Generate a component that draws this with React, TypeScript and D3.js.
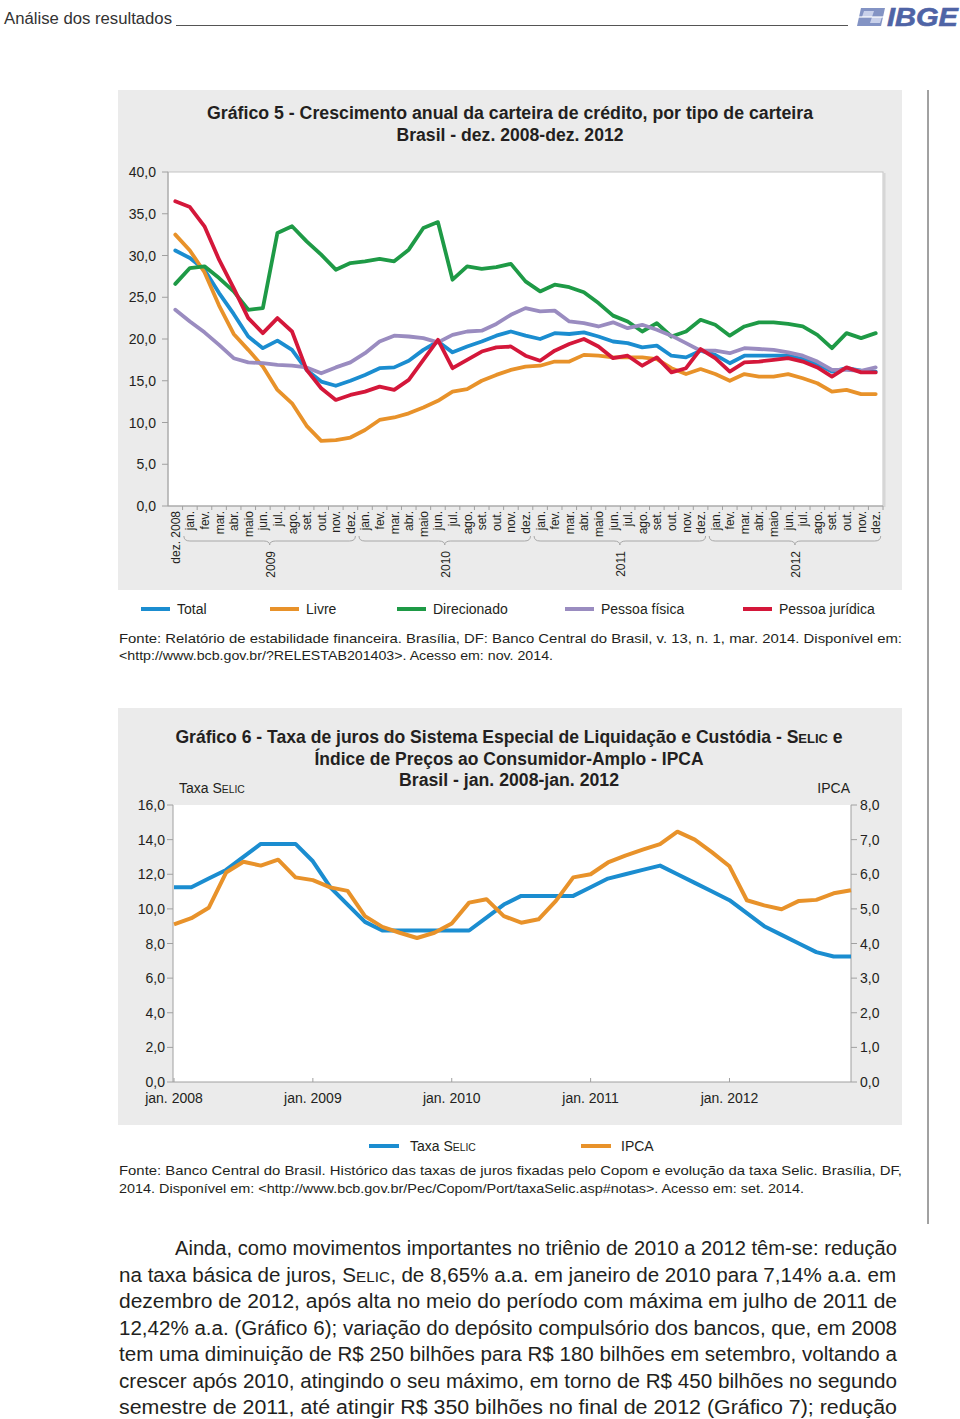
import React, { useLayoutEffect, useRef, useState } from "react";
import * as d3 from "d3";

// ---------- Gráfico 5 data ----------
const monthsShort = ["jan.", "fev.", "mar.", "abr.", "maio", "jun.", "jul.", "ago.", "set.", "out.", "nov.", "dez."];
const categories5 = ["dez. 2008", ...monthsShort, ...monthsShort, ...monthsShort, ...monthsShort];
const years5 = ["2009", "2010", "2011", "2012"];
const yTicks5 = [0, 5, 10, 15, 20, 25, 30, 35, 40];

const total5 = [30.6, 29.7, 28.3, 25.5, 23.0, 20.3, 18.9, 19.8, 18.7, 16.3, 14.9, 14.4, 15.0, 15.7, 16.5, 16.6, 17.4, 18.7, 19.7, 18.4, 19.1, 19.7, 20.4, 20.9, 20.4, 20.0, 20.7, 20.6, 20.8, 20.3, 19.7, 19.5, 19.0, 19.2, 18.0, 17.8, 18.6, 18.1, 17.1, 18.0, 18.0, 18.0, 18.0, 17.6, 17.0, 16.1, 16.5, 16.2, 16.1];
const livre5 = [32.5, 30.6, 28.0, 24.0, 20.6, 18.7, 16.7, 13.9, 12.3, 9.6, 7.8, 7.9, 8.2, 9.1, 10.3, 10.6, 11.1, 11.8, 12.6, 13.7, 14.0, 15.0, 15.7, 16.3, 16.7, 16.8, 17.3, 17.3, 18.1, 18.0, 17.8, 17.8, 17.8, 17.6, 16.5, 15.8, 16.4, 15.8, 15.0, 15.8, 15.5, 15.5, 15.8, 15.3, 14.7, 13.7, 13.9, 13.4, 13.4];
const direcionado5 = [26.6, 28.5, 28.7, 27.3, 25.7, 23.5, 23.7, 32.7, 33.5, 31.7, 30.1, 28.3, 29.1, 29.3, 29.6, 29.3, 30.7, 33.3, 34.0, 27.1, 28.7, 28.4, 28.6, 29.0, 26.9, 25.7, 26.5, 26.2, 25.6, 24.3, 22.8, 22.1, 20.9, 21.9, 20.3, 20.9, 22.3, 21.7, 20.4, 21.5, 22.0, 22.0, 21.8, 21.5, 20.5, 18.9, 20.7, 20.1, 20.7];
const pessoaFisica5 = [23.5, 22.1, 20.8, 19.3, 17.7, 17.2, 17.1, 16.9, 16.8, 16.6, 15.9, 16.6, 17.2, 18.3, 19.7, 20.4, 20.3, 20.1, 19.6, 20.5, 20.9, 21.0, 21.8, 22.9, 23.7, 23.3, 23.4, 22.1, 21.9, 21.5, 22.0, 21.3, 21.7, 21.1, 20.4, 19.5, 18.6, 18.6, 18.3, 18.9, 18.8, 18.7, 18.4, 18.0, 17.3, 16.3, 16.3, 16.2, 16.6];
const pessoaJuridica5 = [36.5, 35.8, 33.5, 29.5, 26.1, 22.5, 20.7, 22.5, 20.9, 16.3, 14.1, 12.7, 13.3, 13.7, 14.3, 13.9, 15.1, 17.5, 19.9, 16.5, 17.5, 18.5, 19.0, 19.1, 18.0, 17.4, 18.6, 19.4, 20.0, 19.1, 17.7, 18.0, 16.8, 17.8, 16.0, 16.5, 18.8, 17.7, 16.1, 17.2, 17.3, 17.5, 17.7, 17.3, 16.6, 15.5, 16.6, 16.0, 16.0];

const seriesNames5 = ["Total", "Livre", "Direcionado", "Pessoa física", "Pessoa jurídica"];
const seriesColors5 = ["#1b8dd0", "#e8922a", "#1e9a46", "#9a8cc0", "#d4173a"];
const seriesValues5 = [total5, livre5, direcionado5, pessoaFisica5, pessoaJuridica5];

// ---------- Gráfico 6 data ----------
const meetings6 = [
  "jan. 2008", "mar. 2008", "abr. 2008", "jun. 2008", "jul. 2008", "set. 2008", "out. 2008", "dez. 2008",
  "jan. 2009", "mar. 2009", "abr. 2009", "jun. 2009", "jul. 2009", "set. 2009", "out. 2009", "dez. 2009",
  "jan. 2010", "mar. 2010", "abr. 2010", "jun. 2010", "jul. 2010", "set. 2010", "out. 2010", "dez. 2010",
  "jan. 2011", "mar. 2011", "abr. 2011", "jun. 2011", "jul. 2011", "ago. 2011", "out. 2011", "nov. 2011",
  "jan. 2012", "mar. 2012", "abr. 2012", "maio 2012", "jul. 2012", "ago. 2012", "out. 2012", "nov. 2012",
];
const selic6 = [11.25, 11.25, 11.75, 12.25, 13.0, 13.75, 13.75, 13.75, 12.75, 11.25, 10.25, 9.25, 8.75, 8.75, 8.75, 8.75, 8.75, 8.75, 9.5, 10.25, 10.75, 10.75, 10.75, 10.75, 11.25, 11.75, 12.0, 12.25, 12.5, 12.0, 11.5, 11.0, 10.5, 9.75, 9.0, 8.5, 8.0, 7.5, 7.25, 7.25];
const ipca6 = [4.55, 4.73, 5.03, 6.05, 6.36, 6.25, 6.42, 5.91, 5.83, 5.62, 5.52, 4.79, 4.48, 4.31, 4.16, 4.31, 4.58, 5.18, 5.28, 4.79, 4.6, 4.7, 5.23, 5.91, 6.0, 6.34, 6.54, 6.71, 6.87, 7.23, 7.0, 6.63, 6.23, 5.25, 5.1, 4.99, 5.23, 5.26, 5.45, 5.54];
const yTicksLeft6 = [0, 2, 4, 6, 8, 10, 12, 14, 16];
const yTicksRight6 = [0, 1, 2, 3, 4, 5, 6, 7, 8];
const seriesColors6 = ["#1b8dd0", "#e8922a"];

// ---------- Texts ----------
const paragraphLines = [
  "Ainda, como movimentos importantes no triênio de 2010 a 2012 têm-se: redução",
  "na taxa básica de juros, |S|, de 8,65% a.a. em janeiro de 2010 para 7,14% a.a. em",
  "dezembro de 2012, após alta no meio do período com máxima em julho de 2011 de",
  "12,42% a.a. (Gráfico 6);  variação do depósito compulsório dos bancos, que, em 2008",
  "tem uma diminuição de R$ 250 bilhões para R$ 180 bilhões em setembro, voltando a",
  "crescer após 2010, atingindo o seu máximo, em torno de R$ 450 bilhões no segundo",
  "semestre de 2011, até atingir R$ 350 bilhões no final de 2012 (Gráfico 7); redução",
];

const SANS = "'Liberation Sans', Arial, Helvetica, sans-serif";
const TXT = "#231f20";
const fmt = d3.formatLocale({ decimal: ",", thousands: ".", grouping: [3], currency: ["R$", ""] }).format(".1f");

function SmallCapsSelic({ size }: { size: number }) {
  return (
    <>
      <tspan>S</tspan>
      <tspan fontSize={size * 0.74}>ELIC</tspan>
    </>
  );
}

// Text that is horizontally scaled to a target width (keeps tspans un-squeezed individually)
function FitText({ x, y, width, anchor, fontSize, fontWeight, children }: any) {
  const ref = useRef<SVGTextElement>(null);
  const [s, setS] = useState(1);
  useLayoutEffect(() => {
    if (ref.current) {
      const len = ref.current.getComputedTextLength();
      if (len > 0) setS(width / len);
    }
  }, [width]);
  return (
    <text
      ref={ref}
      transform={`translate(${x},${y}) scale(${s},1)`}
      textAnchor={anchor}
      fontSize={fontSize}
      fontWeight={fontWeight}
      fill={TXT}
    >
      {children}
    </text>
  );
}

function Brace({ x1, x2, y }: { x1: number; x2: number; y: number }) {
  const m = (x1 + x2) / 2;
  const d = `M${x1},${y - 5} Q${x1},${y} ${x1 + 6},${y} L${m - 6},${y} Q${m},${y} ${m},${y + 4} Q${m},${y} ${m + 6},${y} L${x2 - 6},${y} Q${x2},${y} ${x2},${y - 5}`;
  return <path d={d} fill="none" stroke="#a8a8a8" strokeWidth={1} />;
}

export default function App() {
  // Chart 5 scales
  const x5 = d3.scalePoint<number>().domain(d3.range(categories5.length)).range([168, 883]).padding(0.5);
  const y5 = d3.scaleLinear().domain([0, 40]).range([506, 172]);
  const line5 = (vals: number[]) =>
    d3.line<number>().x((_, i) => x5(i) as number).y((v) => y5(v))(vals) || "";
  const step5 = x5.step();

  // Chart 6 scales
  const x6 = d3.scalePoint<number>().domain(d3.range(meetings6.length)).range([174, 851]);
  const yL6 = d3.scaleLinear().domain([0, 16]).range([1082, 805]);
  const yR6 = d3.scaleLinear().domain([0, 8]).range([1082, 805]);
  const selicLine = d3.line<number>().x((_, i) => x6(i) as number).y((v) => yL6(v))(selic6) || "";
  const ipcaLine = d3.line<number>().x((_, i) => x6(i) as number).y((v) => yR6(v))(ipca6) || "";

  const legend5X = [141, 270, 397, 565, 743];

  return (
    <svg
      width={960}
      height={1419}
      viewBox="0 0 960 1419"
      style={{ position: "absolute", left: 0, top: 0, display: "block", background: "#fff" }}
      fontFamily={SANS}
    >
      <rect x={0} y={0} width={960} height={1419} fill="#fff" />
      {/* Header */}
      <text x={4} y={24} fontSize={16} fill="#333" textLength={168} lengthAdjust="spacingAndGlyphs">
        Análise dos resultados
      </text>
      <line x1={176} x2={848} y1={25.5} y2={25.5} stroke="#555" strokeWidth={1} />
      <g>
        <polygon points="861,8 885,8 881,26 857,26" fill="#8393c4" />
        <polygon points="864,11 874,11 872,17 862,17" fill="#c8d0ea" />
        <polygon points="872,17 882,17 880,23 870,23" fill="#c8d0ea" />
        <line x1={858} y1={17} x2={884} y2={17} stroke="#fff" strokeWidth={1.2} />
        <text x={887} y={26} fontSize={26} fontWeight="bold" fontStyle="italic" fill="#4f64a6" stroke="#4f64a6" strokeWidth={0.6} textLength={71} lengthAdjust="spacingAndGlyphs">
          IBGE
        </text>
      </g>
      {/* right margin rule */}
      <line x1={928} x2={928} y1={90} y2={1224} stroke="#444" strokeWidth={1} />

      {/* ================= Gráfico 5 ================= */}
      <rect x={118} y={90} width={784} height={500} fill="#ebebeb" />
      <text x={510} y={119} fontSize={18} fontWeight="bold" fill={TXT} textAnchor="middle" textLength={606} lengthAdjust="spacingAndGlyphs">
        Gráfico 5 - Crescimento anual da carteira de crédito, por tipo de carteira
      </text>
      <text x={510} y={141} fontSize={18} fontWeight="bold" fill={TXT} textAnchor="middle" textLength={227} lengthAdjust="spacingAndGlyphs">
        Brasil - dez. 2008-dez. 2012
      </text>
      <rect x={168} y={172} width={715} height={334} fill="#fff" stroke="#c4c4c4" strokeWidth={1} />
      <line x1={884.5} x2={884.5} y1={173} y2={507} stroke="#d6d6d6" strokeWidth={2} />
      <line x1={168} x2={168} y1={172} y2={506} stroke="#a0a0a0" strokeWidth={1} />
      <line x1={168} x2={883} y1={506} y2={506} stroke="#a0a0a0" strokeWidth={1} />
      {yTicks5.map((t) => (
        <g key={"y5" + t}>
          <line x1={162} x2={168} y1={y5(t)} y2={y5(t)} stroke="#a0a0a0" />
          <text x={156} y={y5(t) + 5} fontSize={14} fill={TXT} textAnchor="end">
            {fmt(t)}
          </text>
        </g>
      ))}
      {categories5.map((c, i) => (
        <g key={"x5" + i}>
          <line x1={(x5(i) as number) + step5 / 2} x2={(x5(i) as number) + step5 / 2} y1={506} y2={510} stroke="#a0a0a0" />
          <text
            transform={`translate(${(x5(i) as number) + 4.5},${511}) rotate(-90)`}
            fontSize={12}
            fill={TXT}
            textAnchor="end"
          >
            {c}
          </text>
        </g>
      ))}
      {years5.map((yr, k) => {
        const a = x5(1 + 12 * k) as number;
        const b = x5(12 + 12 * k) as number;
        const m = (a + b) / 2;
        return (
          <g key={yr}>
            <Brace x1={a - 6} x2={b + 5} y={541} />
            <text transform={`translate(${m + 4.5},${551}) rotate(-90)`} fontSize={12} fill={TXT} textAnchor="end">
              {yr}
            </text>
          </g>
        );
      })}
      {seriesValues5.map((vals, s) => (
        <path key={"s5" + s} d={line5(vals)} fill="none" stroke={seriesColors5[s]} strokeWidth={3.8} strokeLinejoin="round" strokeLinecap="round" />
      ))}
      {/* Legend 5 */}
      {seriesNames5.map((n, s) => (
        <g key={"l5" + s}>
          <line x1={legend5X[s]} x2={legend5X[s] + 29} y1={609} y2={609} stroke={seriesColors5[s]} strokeWidth={4} />
          <text x={legend5X[s] + 36} y={614} fontSize={14} fill={TXT}>
            {n}
          </text>
        </g>
      ))}
      <text x={119} y={643} fontSize={13.5} fill={TXT} textLength={783} lengthAdjust="spacingAndGlyphs">
        Fonte: Relatório de estabilidade financeira. Brasília, DF: Banco Central do Brasil, v. 13, n. 1, mar. 2014. Disponível em:
      </text>
      <text x={119} y={660} fontSize={13.5} fill={TXT} textLength={434} lengthAdjust="spacingAndGlyphs">
        {"<http://www.bcb.gov.br/?RELESTAB201403>. Acesso em: nov. 2014."}
      </text>

      {/* ================= Gráfico 6 ================= */}
      <rect x={118} y={708} width={784} height={417} fill="#ebebeb" />
      <FitText x={509} y={743} width={668} anchor="middle" fontSize={18} fontWeight="bold">
        Gráfico 6 - Taxa de juros do Sistema Especial de Liquidação e Custódia - <SmallCapsSelic size={18} /> e
      </FitText>
      <text x={509} y={765} fontSize={18} fontWeight="bold" fill={TXT} textAnchor="middle" textLength={389} lengthAdjust="spacingAndGlyphs">
        Índice de Preços ao Consumidor-Amplo - IPCA
      </text>
      <text x={509} y={786} fontSize={18} fontWeight="bold" fill={TXT} textAnchor="middle" textLength={220} lengthAdjust="spacingAndGlyphs">
        Brasil - jan. 2008-jan. 2012
      </text>
      <text x={179} y={793} fontSize={14} fill={TXT}>
        Taxa <SmallCapsSelic size={14} />
      </text>
      <text x={850} y={793} fontSize={14} fill={TXT} textAnchor="end">
        IPCA
      </text>
      <rect x={173} y={805} width={678} height={277} fill="#fff" />
      <line x1={173} x2={173} y1={805} y2={1082} stroke="#a0a0a0" />
      <line x1={851} x2={851} y1={805} y2={1082} stroke="#a0a0a0" />
      <line x1={173} x2={851} y1={1082} y2={1082} stroke="#a0a0a0" />
      {yTicksLeft6.map((t) => (
        <g key={"yl6" + t}>
          <line x1={167} x2={173} y1={yL6(t)} y2={yL6(t)} stroke="#a0a0a0" />
          <text x={165} y={yL6(t) + 5} fontSize={14} fill={TXT} textAnchor="end">
            {fmt(t)}
          </text>
        </g>
      ))}
      {yTicksRight6.map((t) => (
        <g key={"yr6" + t}>
          <line x1={851} x2={857} y1={yR6(t)} y2={yR6(t)} stroke="#a0a0a0" />
          <text x={860} y={yR6(t) + 5} fontSize={14} fill={TXT}>
            {fmt(t)}
          </text>
        </g>
      ))}
      {meetings6.map((m, i) =>
        m.startsWith("jan.") ? (
          <g key={"x6" + i}>
            <line x1={x6(i) as number} x2={x6(i) as number} y1={1078} y2={1082} stroke="#a0a0a0" />
            <text x={x6(i) as number} y={1103} fontSize={14} fill={TXT} textAnchor="middle">
              {m}
            </text>
          </g>
        ) : null
      )}
      <path d={selicLine} fill="none" stroke={seriesColors6[0]} strokeWidth={4} strokeLinejoin="round" />
      <path d={ipcaLine} fill="none" stroke={seriesColors6[1]} strokeWidth={4} strokeLinejoin="round" />
      {/* Legend 6 */}
      <line x1={369} x2={399} y1={1146} y2={1146} stroke={seriesColors6[0]} strokeWidth={4} />
      <text x={410} y={1151} fontSize={14} fill={TXT}>
        Taxa <SmallCapsSelic size={14} />
      </text>
      <line x1={581} x2={611} y1={1146} y2={1146} stroke={seriesColors6[1]} strokeWidth={4} />
      <text x={621} y={1151} fontSize={14} fill={TXT}>
        IPCA
      </text>
      <text x={119} y={1175} fontSize={13.5} fill={TXT} textLength={783} lengthAdjust="spacingAndGlyphs">
        Fonte: Banco Central do Brasil. Histórico das taxas de juros fixadas pelo Copom e evolução da taxa Selic. Brasília, DF,
      </text>
      <text x={119} y={1193} fontSize={13.5} fill={TXT} textLength={685} lengthAdjust="spacingAndGlyphs">
        {"2014. Disponível em: <http://www.bcb.gov.br/Pec/Copom/Port/taxaSelic.asp#notas>. Acesso em: set. 2014."}
      </text>

      {/* Paragraph */}
      {paragraphLines.map((ln, k) => {
        const x0 = k === 0 ? 175 : 119;
        const parts = ln.split("|S|");
        return parts.length > 1 ? (
          <FitText key={"p" + k} x={x0} y={1255 + k * 26.5} width={897 - x0} anchor="start" fontSize={19.5}>
            {parts[0]}
            <SmallCapsSelic size={19.5} />
            {parts[1]}
          </FitText>
        ) : (
          <text key={"p" + k} x={x0} y={1255 + k * 26.5} fontSize={19.5} fill={TXT} textLength={897 - x0} lengthAdjust="spacingAndGlyphs">
            {ln}
          </text>
        );
      })}
    </svg>
  );
}
